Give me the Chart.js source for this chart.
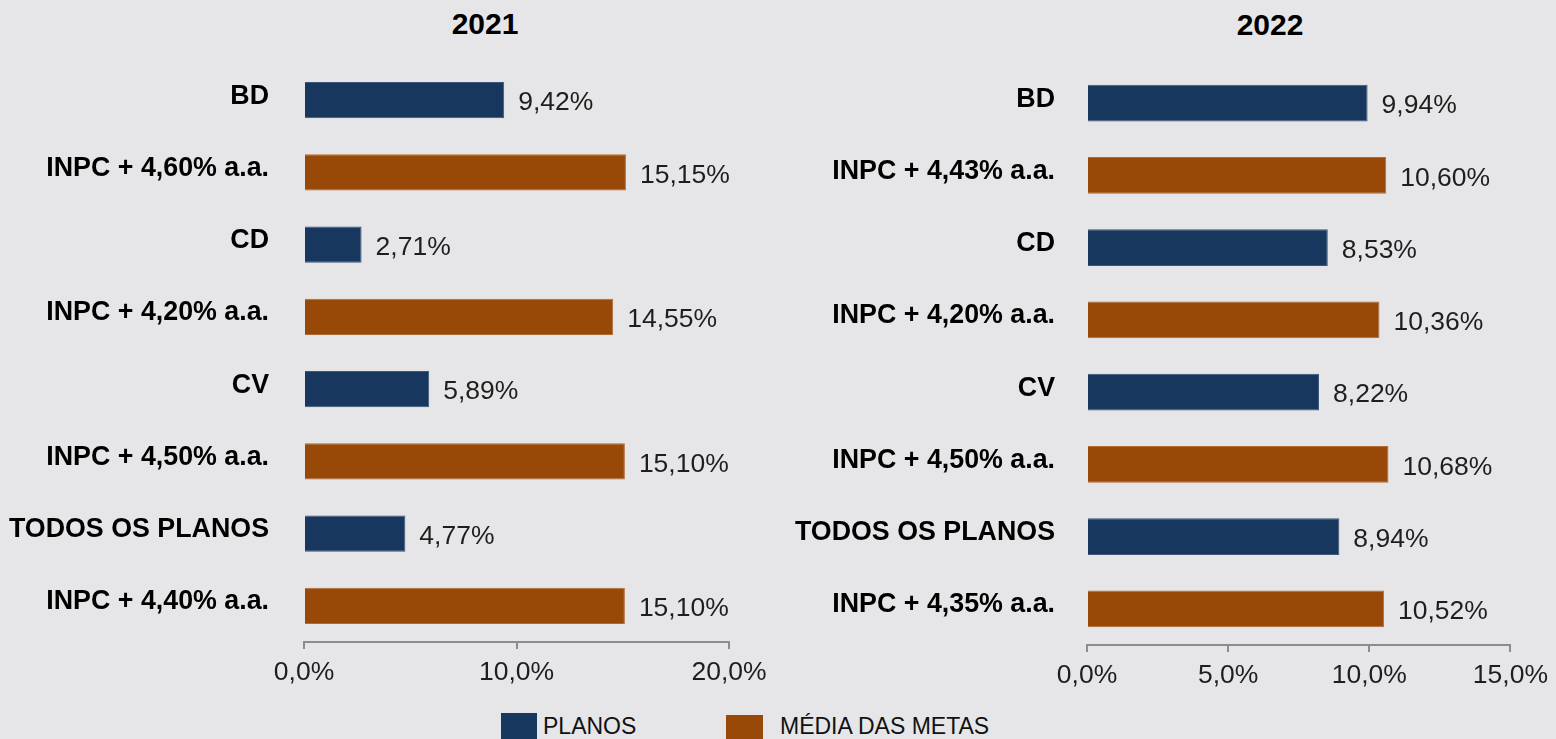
<!DOCTYPE html>
<html>
<head>
<meta charset="utf-8">
<script src="https://cdn.jsdelivr.net/npm/chart.js@4/dist/chart.umd.min.js"></script>
<style>
  html,body{margin:0;padding:0;background:#e6e6e8;}
  body{width:1556px;height:739px;overflow:hidden;position:relative;font-family:"Liberation Sans",Arial,sans-serif;}
  .title{position:absolute;font-weight:bold;font-size:30px;line-height:30px;color:#000;text-align:center;width:200px;}
  .sq{position:absolute;height:30px;}
  .lt{position:absolute;font-size:23px;line-height:23px;color:#111;white-space:nowrap;}
  canvas{position:absolute;top:0;}
</style>
</head>
<body>
<div class="title" style="left:385px;top:9px;">2021</div>
<div class="title" style="left:1170px;top:10px;">2022</div>
<canvas id="c1" width="780" height="700" style="left:0px;"></canvas>
<canvas id="c2" width="776" height="700" style="left:780px;"></canvas>
<div class="sq" style="left:501px;top:713px;width:36px;background:#17375e;"></div>
<div class="lt" style="left:543px;top:715px;">PLANOS</div>
<div class="sq" style="left:726px;top:715px;width:37px;background:#984807;"></div>
<div class="lt" style="left:780px;top:715px;">MÉDIA DAS METAS</div>
<script>
// ---- data ----
const categories2021 = ['BD','INPC + 4,60% a.a.','CD','INPC + 4,20% a.a.','CV','INPC + 4,50% a.a.','TODOS OS PLANOS','INPC + 4,40% a.a.'];
const values2021 = [9.42, 15.15, 2.71, 14.55, 5.89, 15.10, 4.77, 15.10];
const categories2022 = ['BD','INPC + 4,43% a.a.','CD','INPC + 4,20% a.a.','CV','INPC + 4,50% a.a.','TODOS OS PLANOS','INPC + 4,35% a.a.'];
const values2022 = [9.94, 10.60, 8.53, 10.36, 8.22, 10.68, 8.94, 10.52];
const seriesNames = ['PLANOS','MÉDIA DAS METAS'];
const xTicks2021 = [0, 10, 20];
const xTicks2022 = [0, 5, 10, 15];

const NAVY = '#17375e', ORANGE = '#984807';
const NAVY_EDGE = '#3d5678', ORANGE_EDGE = '#b06a36';
const FONT = '"Liberation Sans", Arial, sans-serif';
const barColors = n => Array.from({length:n}, (_, i) => i % 2 === 0 ? NAVY : ORANGE);
const edgeColors = n => Array.from({length:n}, (_, i) => i % 2 === 0 ? NAVY_EDGE : ORANGE_EDGE);
const fmtVal = v => v.toFixed(2).replace('.', ',') + '%';
const fmtTick = v => Number(v).toFixed(1).replace('.', ',') + '%';

const valueLabels = {
  id: 'valueLabels',
  afterDatasetsDraw(chart) {
    const ctx = chart.ctx;
    const meta = chart.getDatasetMeta(0);
    const data = chart.data.datasets[0].data;
    ctx.save();
    ctx.font = '26.5px ' + FONT;
    ctx.fillStyle = '#1e1e1e';
    ctx.textAlign = 'left';
    ctx.textBaseline = 'middle';
    meta.data.forEach((bar, i) => {
      ctx.fillText(fmtVal(data[i]), bar.x + 14, bar.y + 3);
    });
    ctx.restore();
  }
};

function makeChart(id, cats, vals, ticks, opt) {
  const max = ticks[ticks.length - 1];
  const step = ticks[1] - ticks[0];
  return new Chart(document.getElementById(id), {
    type: 'bar',
    data: {
      labels: cats,
      datasets: [{
        label: seriesNames.join(' / '),
        data: vals,
        backgroundColor: barColors(vals.length),
        borderColor: edgeColors(vals.length),
        borderWidth: 1,
        categoryPercentage: opt.catPct,
        barPercentage: 1
      }]
    },
    options: {
      indexAxis: 'y',
      responsive: false,
      animation: false,
      layout: { padding: { top: opt.top, right: opt.right, left: 0, bottom: 0 } },
      plugins: { legend: { display: false }, tooltip: { enabled: false }, title: { display: false } },
      scales: {
        y: {
          afterFit: s => { s.width = opt.yWidth; },
          grid: { display: false, drawTicks: false },
          border: { display: false },
          ticks: {
            color: '#000',
            font: { family: FONT, size: 26.8, weight: 'bold' },
            padding: opt.yPad,
            labelOffset: -4,
            crossAlign: 'near'
          }
        },
        x: {
          min: 0, max: max,
          afterFit: s => { s.height = opt.xHeight; },
          afterBuildTicks: s => { s.ticks = ticks.map(v => ({ value: v })); },
          grid: { drawOnChartArea: false, drawTicks: true, tickLength: 7, color: '#8c8c8c', lineWidth: 2 },
          border: { display: true, color: '#8c8c8c', width: 2 },
          ticks: {
            stepSize: step,
            color: '#1e1e1e',
            font: { family: FONT, size: 26.5 },
            padding: 8,
            maxRotation: 0,
            callback: v => fmtTick(v)
          }
        }
      }
    },
    plugins: [valueLabels]
  });
}

makeChart('c1', categories2021, values2021, xTicks2021, { top: 64, right: 51, yWidth: 304, xHeight: 58, catPct: 0.5, yPad: 35 });
makeChart('c2', categories2022, values2022, xTicks2022, { top: 67, right: 43, yWidth: 307, xHeight: 55, catPct: 0.51, yPad: 32 });
</script>
</body>
</html>
